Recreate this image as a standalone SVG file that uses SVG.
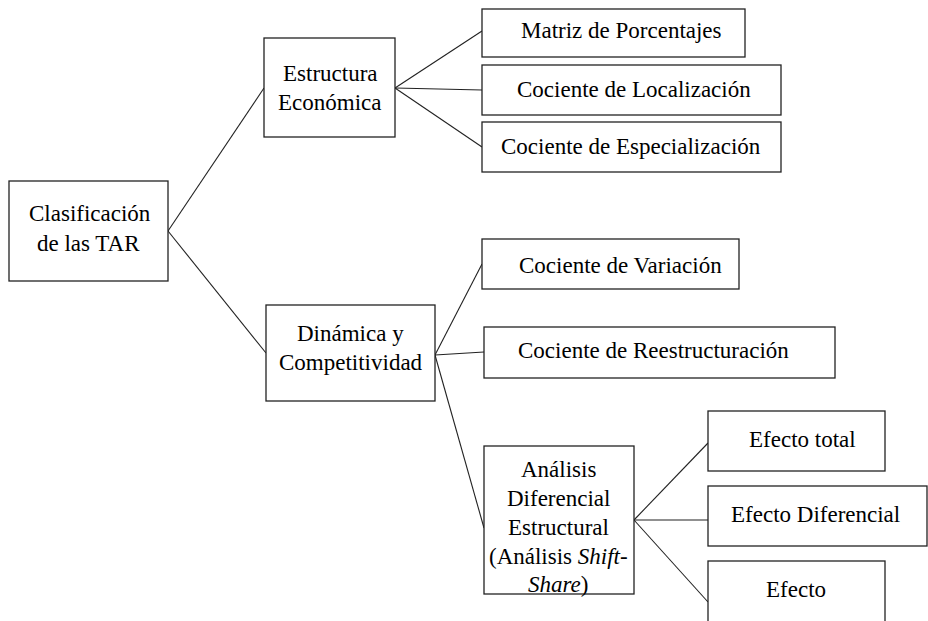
<svg xmlns="http://www.w3.org/2000/svg" width="928" height="621" viewBox="0 0 928 621">
<style>
rect.box{fill:#fff;stroke:#222;stroke-width:1.3}
#connectors line{stroke:#222;stroke-width:1.1}
</style>
<rect x="0" y="0" width="928" height="621" fill="#fff"/>
<g id="connectors">
<line x1="168" y1="231" x2="264" y2="88"/>
<line x1="168" y1="231" x2="266" y2="353"/>
<line x1="395" y1="88" x2="482" y2="31"/>
<line x1="395" y1="88" x2="482" y2="90"/>
<line x1="395" y1="88" x2="482" y2="147"/>
<line x1="435" y1="355" x2="482" y2="264"/>
<line x1="435" y1="355" x2="484" y2="352"/>
<line x1="435" y1="355" x2="484" y2="528"/>
<line x1="634" y1="520" x2="708" y2="443"/>
<line x1="634" y1="520" x2="708" y2="520"/>
<line x1="634" y1="520" x2="708" y2="602"/>
</g>
<g id="clasificacion">
<rect class="box" x="9" y="181" width="159" height="100"/>
<text x="29" y="221" font-family="Liberation Serif" font-size="23">Clasificación</text>
<text x="37" y="251" font-family="Liberation Serif" font-size="23">de las TAR</text>
</g>
<g id="estructura">
<rect class="box" x="264" y="38" width="131" height="99"/>
<text x="283" y="81" font-family="Liberation Serif" font-size="23">Estructura</text>
<text x="278" y="110" font-family="Liberation Serif" font-size="23">Económica</text>
</g>
<g id="matriz">
<rect class="box" x="482" y="9" width="263" height="48"/>
<text x="521" y="38" font-family="Liberation Serif" font-size="23">Matriz de Porcentajes</text>
</g>
<g id="localizacion">
<rect class="box" x="482" y="65" width="299" height="50"/>
<text x="517" y="97" font-family="Liberation Serif" font-size="23">Cociente de Localización</text>
</g>
<g id="especializacion">
<rect class="box" x="482" y="122" width="299" height="50"/>
<text x="501" y="154" font-family="Liberation Serif" font-size="23">Cociente de Especialización</text>
</g>
<g id="dinamica">
<rect class="box" x="266" y="305" width="169" height="96"/>
<text x="297" y="341" font-family="Liberation Serif" font-size="23">Dinámica y</text>
<text x="279" y="370" font-family="Liberation Serif" font-size="23">Competitividad</text>
</g>
<g id="variacion">
<rect class="box" x="482" y="239" width="257" height="50"/>
<text x="519" y="273" font-family="Liberation Serif" font-size="23">Cociente de Variación</text>
</g>
<g id="reestructuracion">
<rect class="box" x="484" y="327" width="351" height="51"/>
<text x="518" y="358" font-family="Liberation Serif" font-size="23">Cociente de Reestructuración</text>
</g>
<g id="analisis">
<rect class="box" x="484" y="446" width="150" height="148"/>
<text x="521" y="477" font-family="Liberation Serif" font-size="23">Análisis</text>
<text x="507" y="506" font-family="Liberation Serif" font-size="23">Diferencial</text>
<text x="508" y="535" font-family="Liberation Serif" font-size="23">Estructural</text>
<text x="489" y="564" font-family="Liberation Serif" font-size="23">(Análisis <tspan font-style="italic">Shift-</tspan></text>
<text x="528" y="592" font-family="Liberation Serif" font-size="23"><tspan font-style="italic">Share</tspan>)</text>
</g>
<g id="efecto-total">
<rect class="box" x="708" y="411" width="177" height="60"/>
<text x="749" y="447" font-family="Liberation Serif" font-size="23">Efecto total</text>
</g>
<g id="efecto-diferencial">
<rect class="box" x="708" y="486" width="219" height="60"/>
<text x="731" y="522" font-family="Liberation Serif" font-size="23">Efecto Diferencial</text>
</g>
<g id="efecto">
<rect class="box" x="708" y="561" width="177" height="70"/>
<text x="766" y="597" font-family="Liberation Serif" font-size="23">Efecto</text>
</g>
</svg>
